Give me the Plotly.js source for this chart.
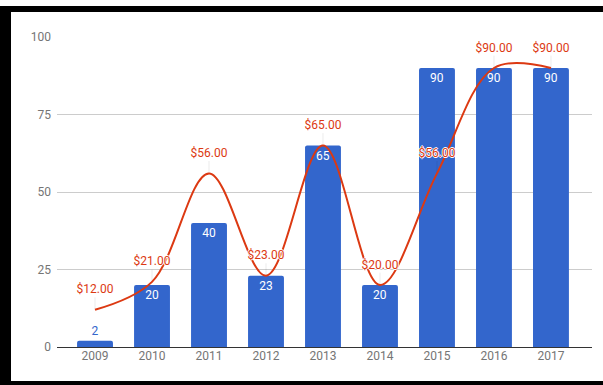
<!DOCTYPE html>
<html>
<head>
<meta charset="utf-8">
<script src="https://cdn.plot.ly/plotly-3.0.1.min.js"></script>
<style>
  html, body { margin: 0; padding: 0; background: #fff; }
  #wrap { position: relative; width: 603px; height: 385px; overflow: hidden; }
  #chart { position: absolute; left: 0; top: 0; width: 603px; height: 385px; }
  .frame { position: absolute; background: #000; }
</style>
</head>
<body>
<div id="wrap">
  <div id="chart"></div>
  <div class="frame" style="left:0;top:6px;width:603px;height:6px;"></div>
  <div class="frame" style="left:0;top:6px;width:11px;height:379px;"></div>
  <div class="frame" style="left:0;top:381px;width:603px;height:4px;"></div>
</div>
<script>
const years = ['2009','2010','2011','2012','2013','2014','2015','2016','2017'];
const barValues = [2, 20, 40, 23, 65, 20, 90, 90, 90];
const lineValues = [12, 21, 56, 23, 65, 20, 56, 90, 90];
const lineLabels = ['$12.00','$21.00','$56.00','$23.00','$65.00','$20.00','$56.00','$90.00','$90.00'];
const yTicks = [0, 25, 50, 75, 100];

const blue = '#3366cc';
const red = '#dc3912';
const fontFam = 'Roboto, Arial, sans-serif';

const barTrace = {
  type: 'bar',
  x: years,
  y: barValues,
  width: 0.63,
  marker: { color: blue, cornerradius: 2 },
  text: barValues.map(String),
  textposition: barValues.map(v => v < 10 ? 'outside' : 'inside'),
  insidetextanchor: 'end',
  insidetextfont: { color: '#ffffff', size: 12, family: fontFam },
  outsidetextfont: { color: blue, size: 12, family: fontFam },
  textangle: 0,
  cliponaxis: false,
  hoverinfo: 'skip',
  showlegend: false
};

// faint stems from each point up toward its label
const stemTrace = {
  type: 'scatter',
  mode: 'markers',
  x: years,
  y: lineValues,
  marker: { size: 1, color: 'rgba(0,0,0,0)' },
  error_y: {
    type: 'data', symmetric: false,
    array: lineValues.map(() => 4),
    arrayminus: lineValues.map(() => 0),
    color: 'rgba(0,0,0,0.08)', thickness: 1, width: 0
  },
  hoverinfo: 'skip',
  showlegend: false
};

const lineTrace = {
  type: 'scatter',
  mode: 'lines',
  x: years,
  y: lineValues,
  line: { color: red, width: 2, shape: 'spline', smoothing: 1 },
  hoverinfo: 'skip',
  showlegend: false
};

// labels above the line points; "$" escaped so it is never read as TeX
const labelTrace = {
  type: 'scatter',
  mode: 'markers+text',
  x: years,
  y: lineValues,
  text: lineLabels.map(s => s.replace('$', '&#36;')),
  textposition: 'top center',
  textfont: {
    color: red, size: 12, family: fontFam,
    shadow: '1px 0 0 #fff, -1px 0 0 #fff, 0 1px 0 #fff, 0 -1px 0 #fff'
  },
  marker: { size: 20, color: 'rgba(0,0,0,0)' },
  cliponaxis: false,
  hoverinfo: 'skip',
  showlegend: false
};

const layout = {
  width: 603, height: 385,
  margin: { l: 57, r: 11, t: 37, b: 38 },
  paper_bgcolor: '#ffffff',
  plot_bgcolor: '#ffffff',
  font: { family: fontFam, size: 12, color: '#757575' },
  xaxis: {
    type: 'category',
    range: [-0.667, 8.72],
    showgrid: false,
    showline: false,
    zeroline: false,
    ticks: '',
    tickfont: { family: fontFam, size: 12, color: '#757575' },
    fixedrange: true
  },
  yaxis: {
    range: [0, 100],
    tickvals: yTicks,
    ticktext: yTicks.map(String),
    showgrid: true,
    gridcolor: '#cccccc',
    gridwidth: 1,
    zeroline: true,
    zerolinecolor: '#333333',
    zerolinewidth: 1,
    showline: false,
    ticks: '',
    ticklabelstandoff: 5,
    tickfont: { family: fontFam, size: 12, color: '#757575' },
    fixedrange: true
  }
};

Plotly.newPlot('chart', [barTrace, stemTrace, lineTrace, labelTrace], layout, { displayModeBar: false, staticPlot: true });
</script>
</body>
</html>
